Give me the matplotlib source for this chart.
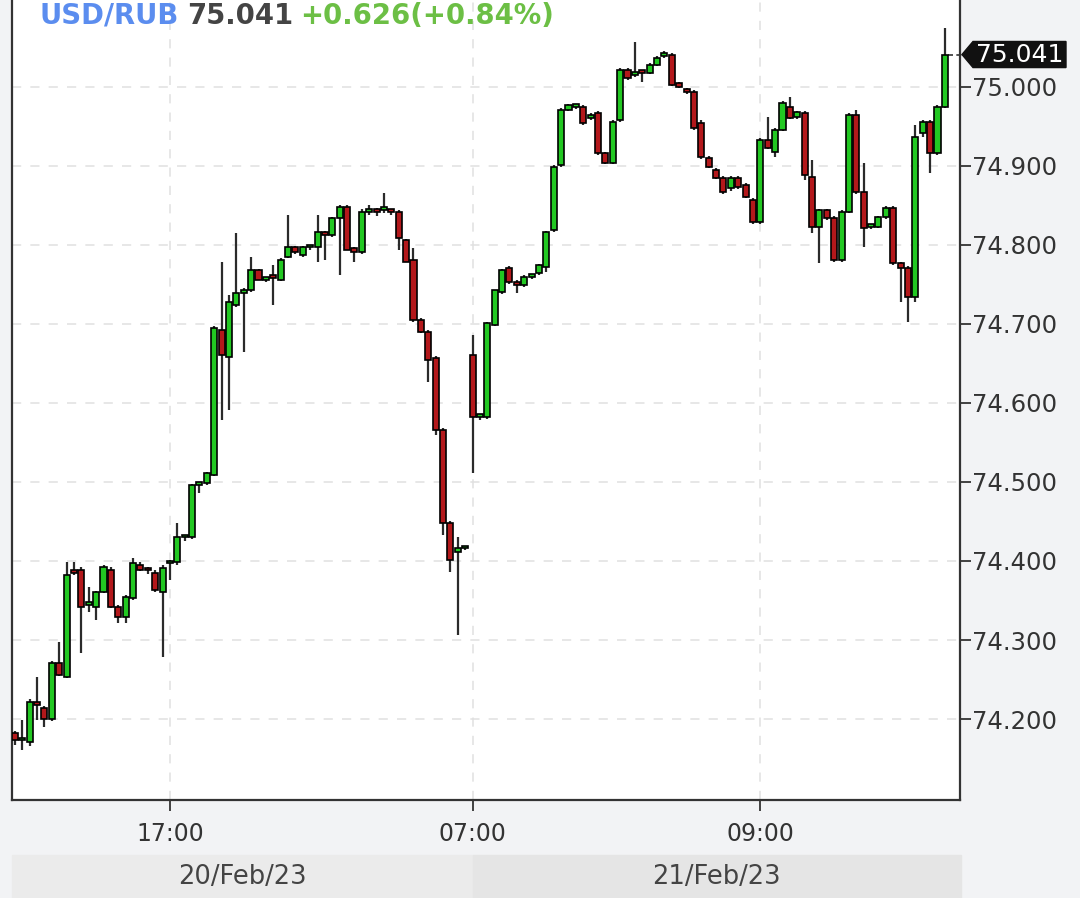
import numpy as np
import matplotlib.pyplot as plt
import matplotlib.transforms as mtransforms
from matplotlib.patches import Polygon, Rectangle


# Velas de 3 minutos USD/RUB (open, high, low, close).
o = [74.182, 74.173, 74.171, 74.222, 74.214, 74.200, 74.271, 74.253, 74.389, 74.389,
     74.344, 74.342, 74.361, 74.389, 74.342, 74.329, 74.353, 74.395, 74.389, 74.385,
     74.361, 74.397, 74.399, 74.430, 74.430, 74.496, 74.499, 74.509, 74.692, 74.658,
     74.724, 74.739, 74.743, 74.768, 74.756, 74.759, 74.756, 74.785, 74.797, 74.787,
     74.797, 74.797, 74.815, 74.813, 74.834, 74.848, 74.796, 74.791, 74.842, 74.843,
     74.844, 74.844, 74.842, 74.806, 74.781, 74.705, 74.690, 74.657, 74.566, 74.448,
     74.411, 74.416,
     74.661, 74.582, 74.582, 74.699, 74.741, 74.771, 74.753, 74.749, 74.760, 74.765,
     74.772, 74.819, 74.901, 74.971, 74.975, 74.975, 74.961, 74.967, 74.916, 74.904,
     74.958, 75.022, 75.015, 75.019, 75.018, 75.028, 75.039, 75.041, 75.005, 74.997,
     74.994, 74.954, 74.910, 74.895, 74.885, 74.872, 74.885, 74.876, 74.857, 74.829,
     74.933, 74.918, 74.946, 74.975, 74.962, 74.967, 74.886, 74.823, 74.844, 74.834,
     74.781, 74.842, 74.965, 74.867, 74.823, 74.823, 74.835, 74.847, 74.777, 74.771,
     74.734, 74.942, 74.956, 74.916, 74.975]
h = [74.185, 74.199, 74.225, 74.253, 74.216, 74.273, 74.297, 74.399, 74.399, 74.392,
     74.367, 74.362, 74.395, 74.392, 74.344, 74.357, 74.404, 74.399, 74.392, 74.388,
     74.395, 74.401, 74.448, 74.433, 74.498, 74.499, 74.513, 74.697, 74.778, 74.737,
     74.815, 74.745, 74.785, 74.770, 74.760, 74.775, 74.783, 74.838, 74.799, 74.799,
     74.800, 74.838, 74.818, 74.835, 74.850, 74.850, 74.798, 74.845, 74.851, 74.847,
     74.866, 74.846, 74.844, 74.808, 74.796, 74.707, 74.692, 74.659, 74.568, 74.450,
     74.430, 74.418,
     74.686, 74.586, 74.703, 74.743, 74.770, 74.773, 74.756, 74.762, 74.763, 74.776,
     74.818, 74.901, 74.973, 74.979, 74.978, 74.977, 74.967, 74.969, 74.918, 74.958,
     75.024, 75.024, 75.057, 75.022, 75.030, 75.039, 75.045, 75.043, 75.006, 74.999,
     74.996, 74.958, 74.912, 74.897, 74.887, 74.887, 74.887, 74.878, 74.859, 74.935,
     74.962, 74.948, 74.982, 74.987, 74.970, 74.969, 74.908, 74.846, 74.846, 74.836,
     74.844, 74.967, 74.971, 74.904, 74.825, 74.837, 74.849, 74.849, 74.779, 74.773,
     74.952, 74.958, 74.958, 74.977, 75.075]
l = [74.167, 74.161, 74.166, 74.199, 74.190, 74.198, 74.254, 74.252, 74.382, 74.284,
     74.336, 74.325, 74.359, 74.340, 74.322, 74.322, 74.350, 74.387, 74.384, 74.361,
     74.278, 74.376, 74.395, 74.425, 74.428, 74.486, 74.496, 74.507, 74.578, 74.591,
     74.722, 74.665, 74.741, 74.755, 74.753, 74.724, 74.754, 74.783, 74.789, 74.785,
     74.794, 74.778, 74.781, 74.810, 74.762, 74.794, 74.778, 74.789, 74.838, 74.837,
     74.840, 74.838, 74.794, 74.778, 74.703, 74.688, 74.627, 74.560, 74.433, 74.386,
     74.306, 74.414,
     74.511, 74.578, 74.580, 74.697, 74.738, 74.750, 74.739, 74.747, 74.757, 74.762,
     74.766, 74.817, 74.899, 74.969, 74.972, 74.952, 74.958, 74.914, 74.902, 74.902,
     74.956, 75.009, 75.012, 75.006, 75.016, 75.026, 75.037, 75.001, 74.998, 74.991,
     74.946, 74.909, 74.897, 74.883, 74.865, 74.868, 74.871, 74.859, 74.827, 74.827,
     74.921, 74.911, 74.944, 74.959, 74.960, 74.882, 74.815, 74.777, 74.832, 74.779,
     74.778, 74.840, 74.865, 74.797, 74.820, 74.821, 74.833, 74.775, 74.728, 74.703,
     74.728, 74.937, 74.891, 74.914, 74.973]
c = [74.173, 74.175, 74.222, 74.218, 74.200, 74.271, 74.256, 74.382, 74.385, 74.342,
     74.346, 74.361, 74.392, 74.342, 74.329, 74.354, 74.397, 74.389, 74.388, 74.363,
     74.391, 74.399, 74.430, 74.432, 74.496, 74.498, 74.511, 74.695, 74.661, 74.728,
     74.739, 74.743, 74.768, 74.756, 74.759, 74.758, 74.781, 74.797, 74.791, 74.797,
     74.798, 74.816, 74.813, 74.834, 74.848, 74.794, 74.791, 74.842, 74.844, 74.842,
     74.844, 74.842, 74.809, 74.778, 74.705, 74.690, 74.654, 74.566, 74.448, 74.401,
     74.416, 74.416,
     74.582, 74.585, 74.701, 74.743, 74.768, 74.753, 74.749, 74.759, 74.762, 74.775,
     74.816, 74.899, 74.971, 74.977, 74.975, 74.954, 74.965, 74.916, 74.904, 74.956,
     75.022, 75.011, 75.019, 75.018, 75.028, 75.037, 75.040, 75.003, 75.000, 74.994,
     74.948, 74.911, 74.899, 74.885, 74.867, 74.885, 74.873, 74.861, 74.829, 74.933,
     74.923, 74.946, 74.980, 74.961, 74.968, 74.889, 74.823, 74.844, 74.834, 74.781,
     74.842, 74.965, 74.867, 74.822, 74.823, 74.835, 74.847, 74.777, 74.771, 74.734,
     74.937, 74.956, 74.916, 74.975, 75.041]

last = 75.041
change = "+0.626(+0.84%)"

tick_idx = [21, 62, 101]
tick_lbl = ["17:00", "07:00", "09:00"]
yticks = [74.2, 74.3, 74.4, 74.5, 74.6, 74.7, 74.8, 74.9, 75.0]
days = ["20/Feb/23", "21/Feb/23"]
day_split = 62


o = np.array(o)
h = np.array(h)
l = np.array(l)
c = np.array(c)
x = np.arange(len(o))

fig = plt.figure(figsize=(10.8, 8.98), dpi=100)
fig.patch.set_facecolor("#f2f3f5")
ax = fig.add_axes([12 / 1080, 98 / 898, 948 / 1080, 800 / 898])
ax.set_facecolor("white")

# Velas
col = np.where(c >= o, "#22c822", "#b3181b")
ax.vlines(x, l, h, color="#2b2b2b", lw=1.6, zorder=2)
ax.bar(x, np.maximum(np.abs(c - o), 0.0035), bottom=np.minimum(o, c), width=0.82,
       color=col, edgecolor="black", linewidth=1.2, zorder=3)

# Linea del ultimo precio
ax.plot([x[-1] + 0.45, 128.5], [last, last], color="#333333", lw=1.2, ls=(0, (3, 2)),
        zorder=2, clip_on=False)

ax.set_xlim(-0.4, 128.05)
ax.set_ylim(74.0975, 75.110)

ax.set_xticks(tick_idx)
ax.set_xticklabels(tick_lbl)
ax.set_yticks(yticks)
ax.set_yticklabels(["%.3f" % v for v in yticks])
ax.yaxis.tick_right()
ax.tick_params(axis="both", direction="out", length=8, width=1.3, color="#333333",
               labelcolor="#333333", labelsize=17)
ax.tick_params(axis="y", pad=1, labelsize=17.5)
ax.tick_params(axis="x", pad=8)

ax.grid(True, ls=(0, (6, 6)), color="#e0e0e0", lw=1.1)
ax.set_axisbelow(True)

for s in ["left", "right", "bottom"]:
    ax.spines[s].set_color("#333333")
    ax.spines[s].set_linewidth(1.6)
ax.spines["top"].set_visible(False)

# Bandas de fechas
tr = mtransforms.blended_transform_factory(ax.transData, fig.transFigure)
band_y0, band_y1 = 0.0, 1 - 855 / 898
ax.add_patch(Rectangle((-0.4, band_y0), day_split + 0.4, band_y1, transform=tr,
                       color="#ebebeb", clip_on=False, zorder=0))
ax.add_patch(Rectangle((day_split, band_y0), 128.2 - day_split, band_y1, transform=tr,
                       color="#e5e5e5", clip_on=False, zorder=0))
ax.text((day_split - 0.4) / 2, band_y1 / 2, days[0], transform=tr, ha="center",
        va="center", fontsize=18.5, color="#444444")
ax.text((day_split + 128.2) / 2, band_y1 / 2, days[1], transform=tr, ha="center",
        va="center", fontsize=18.5, color="#444444")

# Etiqueta del ultimo precio
tr2 = mtransforms.blended_transform_factory(fig.transFigure, ax.transData)
dy = 0.0165
pts = [(962 / 1080, last), (973 / 1080, last + dy), (1066 / 1080, last + dy),
       (1066 / 1080, last - dy), (973 / 1080, last - dy)]
fig.add_artist(Polygon(pts, closed=True, transform=tr2, color="#111111", zorder=5))
fig.text(1019.5 / 1080, last, "%.3f" % last, transform=tr2, ha="center", va="center",
         fontsize=18, color="white", zorder=6)

# Encabezado
yh = 1 - 16 / 898
fig.text(40 / 1080, yh, "USD/RUB", color="#5b8def", fontsize=19.8, fontweight="bold", va="center")
fig.text(187 / 1080, yh, "%.3f" % last, color="#444444", fontsize=19.8, fontweight="bold", va="center")
fig.text(300 / 1080, yh, change, color="#6cbf45", fontsize=19.8, fontweight="bold", va="center")

plt.savefig("out.png", dpi=100)
